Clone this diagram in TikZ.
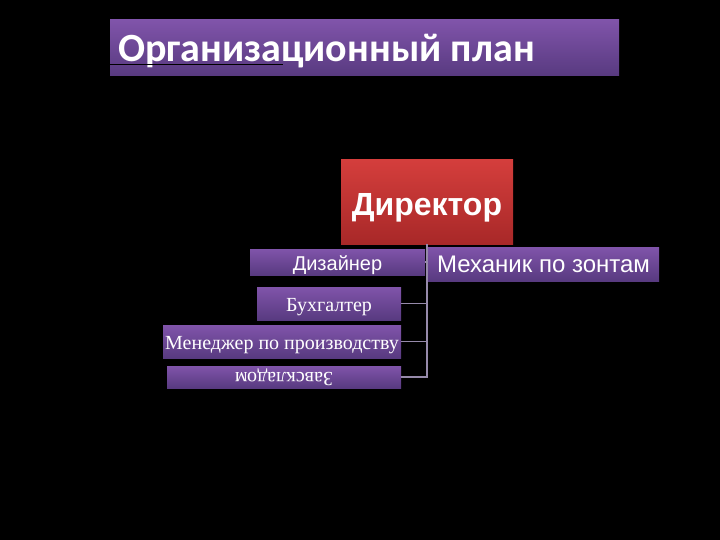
\documentclass[tikz,border=0pt]{standalone}
\usepackage{fontspec}
\setmainfont{Liberation Serif}
\setsansfont{Liberation Sans}
\newfontfamily\titlefont{Carlito}
\usetikzlibrary{positioning,calc}

\definecolor{purpletop}{RGB}{128,84,170}
\definecolor{purplebot}{RGB}{88,58,128}
\definecolor{redtop}{RGB}{212,62,60}
\definecolor{redbot}{RGB}{168,40,40}
\definecolor{linegrey}{RGB}{150,138,170}

\begin{document}
\begin{tikzpicture}
[
                  x = 1pt,
                  y = -1pt,
      titlebox/.style = { draw=none, top color=purpletop, bottom color=purplebot, inner sep=0pt },
      headbox/.style  = { draw=none, top color=redtop, bottom color=redbot, inner sep=0pt,
                          text=white, font=\sffamily\bfseries\fontsize{32}{34}\selectfont,
                          text height=26pt, text depth=0pt },
      rolebox/.style  = { draw=none, top color=purpletop, bottom color=purplebot, inner sep=0pt,
                          text=white },
      sanslabel/.style = { font=\sffamily\fontsize{20}{22}\selectfont, text height=17pt, text depth=0pt },
      seriflabel/.style = { font=\rmfamily\fontsize{20}{22}\selectfont, text height=16pt, text depth=0pt },
      flipped/.style  = { font=\rmfamily\fontsize{20}{22}\selectfont, rotate=180 },
      link/.style     = { draw=linegrey, line width=1.2pt }
]

	\fill[black] (0,0) rectangle (720,540);
	\useasboundingbox (0,0) rectangle (720,540);

	% title
	\node (title) at (364.5, 48) [titlebox, minimum width=509pt, minimum height=56pt] {};
	\node at ($(title.west)+(8,3)$) [anchor=west, inner sep=0pt, text=white,
	      font=\titlefont\bfseries\fontsize{40}{42}\selectfont] {Организационный план};
	\draw[black, line width=1pt] ($(title.west)+(0,17)$) -- ++(173,0);

	% boxes
	\node (director) at (427, 202) [headbox, minimum width=172pt, minimum height=84pt] {Директор};
	\node (designer) at (337.5, 262) [rolebox, sanslabel, minimum width=175pt, minimum height=26pt] {Дизайнер};
	\node (mechanic) at (543.5, 264) [rolebox, sanslabel, font=\sffamily\fontsize{24}{26}\selectfont,
	      minimum width=231pt, minimum height=34pt] {Механик по зонтам};
	\node (account)  at (329, 303.5) [rolebox, seriflabel, minimum width=144pt, minimum height=33pt] {Бухгалтер};
	\node (manager)  at (282, 341.5) [rolebox, seriflabel, minimum width=238pt, minimum height=33pt] {Менеджер по производству};
	\node (store)    at (284, 377)   [rolebox, flipped, minimum width=234pt, minimum height=22pt] {Завскладом};

	% connectors
	\draw[link] (director.south) |- (store.west);
	\draw[link] (account.east) -- (account.east -| director.south);
	\draw[link] (manager.east) -- (manager.east -| director.south);
	\draw[link] (designer.east) -- (designer.east -| director.south);

\end{tikzpicture}
\end{document}
